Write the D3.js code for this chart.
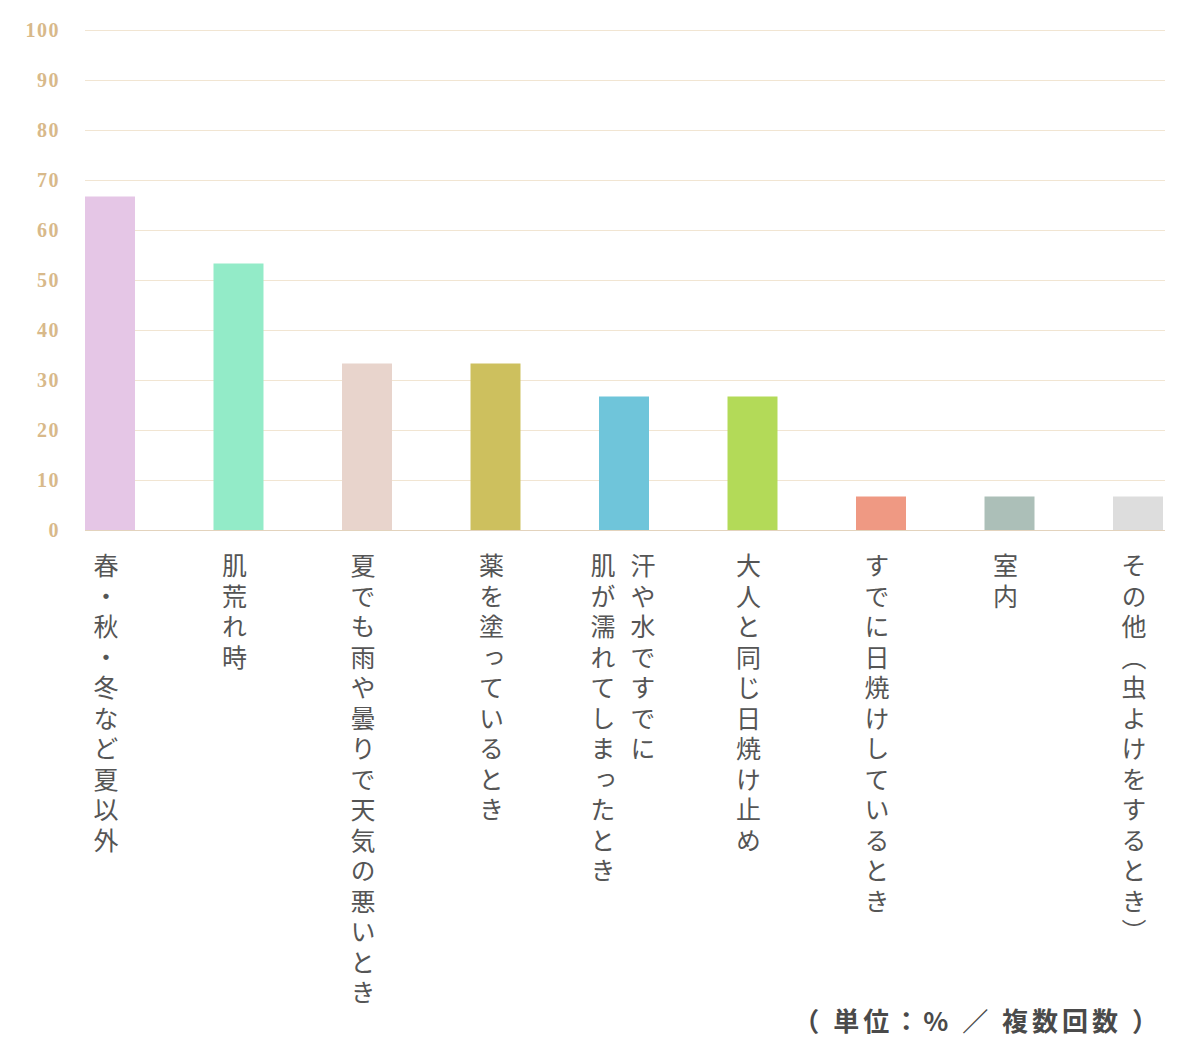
<!DOCTYPE html>
<html><head><meta charset="utf-8">
<script src="https://cdn.jsdelivr.net/npm/d3@7"></script>
<style>body{margin:0;background:#fff}</style>
</head><body>
<svg id="c" width="1200" height="1050"></svg>
<script>
const categories = ["春・秋・冬など夏以外","肌荒れ時","夏でも雨や曇りで天気の悪いとき","薬を塗っているとき","汗や水ですでに肌が濡れてしまったとき","大人と同じ日焼け止め","すでに日焼けしているとき","室内","その他（虫よけをするとき）"];
const labelColumns = [["春・秋・冬など夏以外"],["肌荒れ時"],["夏でも雨や曇りで天気の悪いとき"],["薬を塗っているとき"],["汗や水ですでに","肌が濡れてしまったとき"],["大人と同じ日焼け止め"],["すでに日焼けしているとき"],["室内"],["その他（虫よけをするとき）"]];
const values = [66.7,53.3,33.3,33.3,26.7,26.7,6.7,6.7,6.7];
const colors = ["#e5c6e6","#93ebc8","#e8d4cc","#cdc05e","#6fc5da","#b3da58","#ef9983","#acbfb8","#dddddd"];
const yTicks = [0,10,20,30,40,50,60,70,80,90,100];

const svg = d3.select("#c");
const y = d3.scaleLinear().domain([0,100]).range([530,30]);
const x = d3.scaleBand().domain(categories).range([85,1163]).paddingInner(0.611).paddingOuter(0).align(0);

svg.append("g").selectAll("line").data(yTicks).join("line")
  .attr("x1",85).attr("x2",1165).attr("y1",d=>y(d)+0.5).attr("y2",d=>y(d)+0.5)
  .attr("stroke",d=>d===0?"#e3d3bd":"#f1e5d2").attr("stroke-width",1);
svg.append("g").selectAll("text").data(yTicks).join("text")
  .attr("x",60).attr("y",d=>y(d)+7).attr("text-anchor","end")
  .attr("font-family","Liberation Serif, DejaVu Serif, serif").attr("font-size",20).attr("font-weight","bold")
  .attr("letter-spacing",1.5).attr("fill","#d8b98a").text(d=>d);

svg.append("g").selectAll("rect").data(values).join("rect")
  .attr("x",(d,i)=>x(categories[i])).attr("width",x.bandwidth())
  .attr("y",d=>y(d)).attr("height",d=>y(0)-y(d)).attr("fill",(d,i)=>colors[i]);

labelColumns.forEach((cols,i)=>{
  const left = x(categories[i]);
  const xs = cols.length===1 ? [left+21] : [left+44,left+4];
  cols.forEach((t,j)=>{
    svg.append("text").attr("x",xs[j]).attr("y",553)
      .style("writing-mode","vertical-rl").style("text-orientation","upright")
      .attr("font-family","Noto Sans CJK JP, sans-serif").attr("font-size",25)
      .attr("letter-spacing",5.5).attr("fill","#555").text(t);
  });
});

svg.append("text").attr("x",1162).attr("y",1031).attr("text-anchor","end")
  .attr("font-family","Noto Sans CJK JP, sans-serif").attr("font-size",26).attr("font-weight","bold")
  .attr("letter-spacing",4).attr("fill","#4a4a4a").text("（ 単位：% ／ 複数回数 ）");
</script>
</body></html>
